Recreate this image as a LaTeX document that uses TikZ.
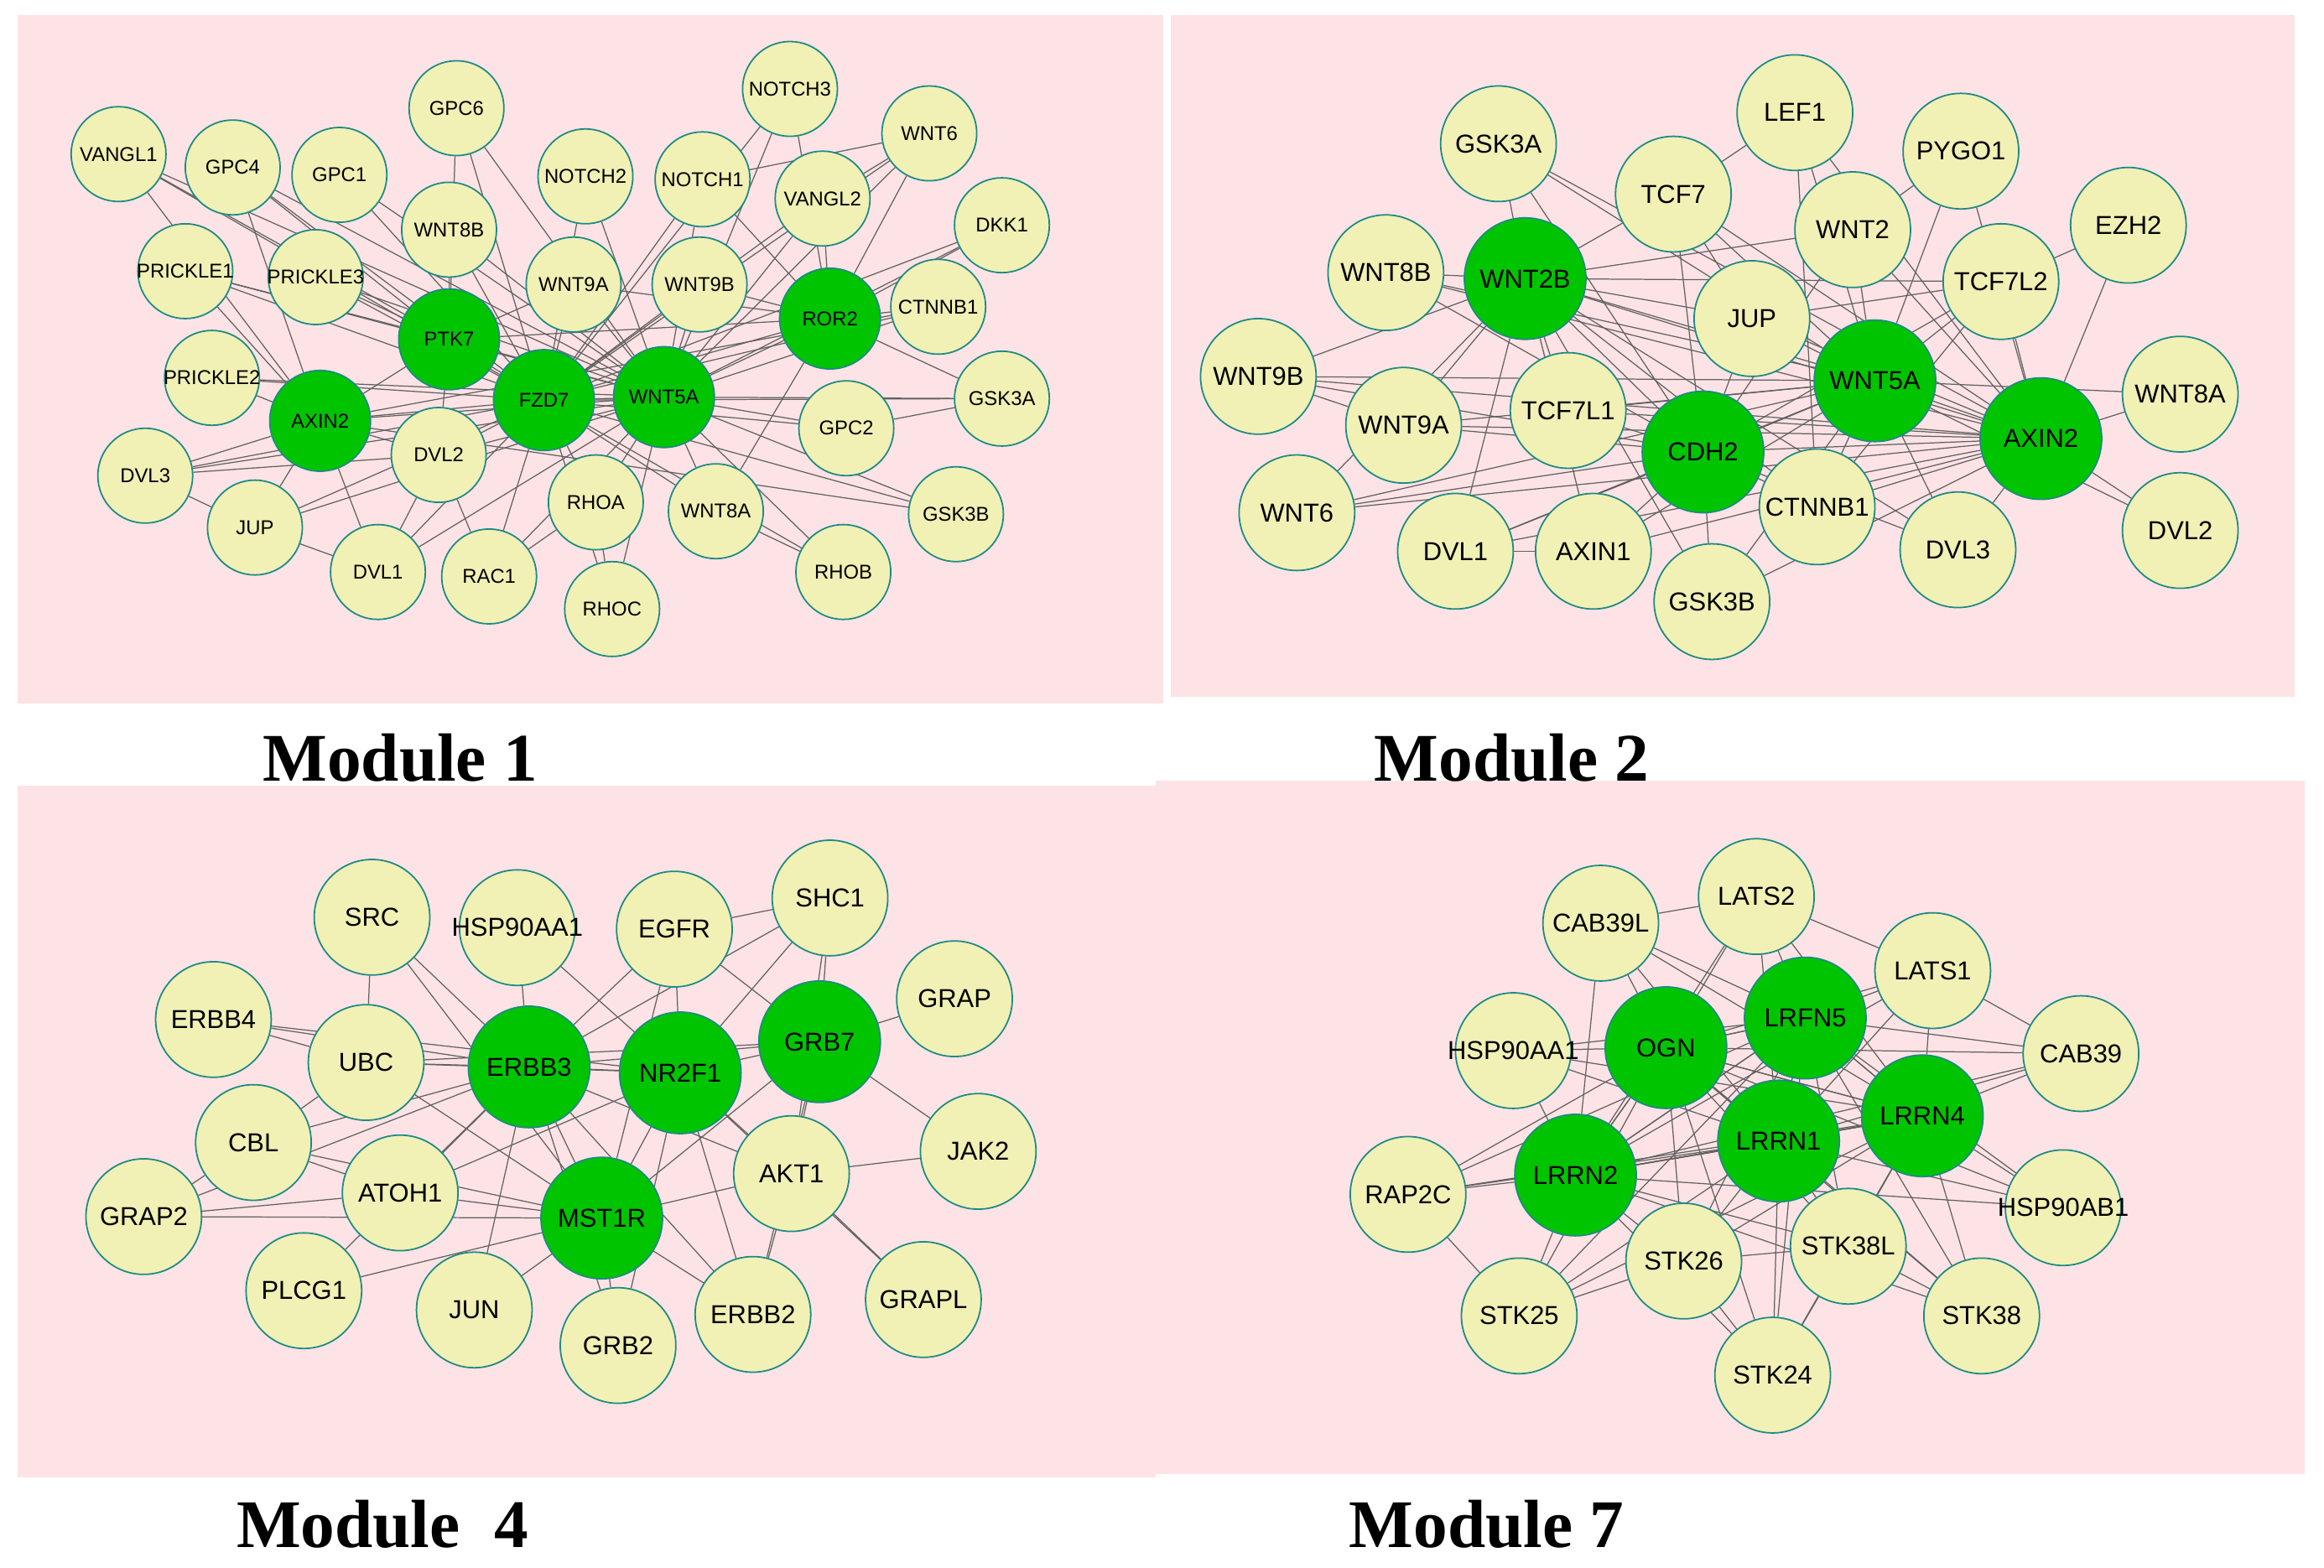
\documentclass[tikz,border=0pt]{standalone}
\usepackage{fontspec}
\setmainfont{Liberation Sans}
\newfontfamily\ttl{Liberation Serif}
\pgfdeclarelayer{bg}\pgfdeclarelayer{edges}
\pgfsetlayers{bg,edges,main}
\definecolor{pinkbg}{HTML}{FDE3E5}
\definecolor{ynode}{HTML}{F1F0B5}
\definecolor{gnode}{HTML}{00C400}
\definecolor{bord}{HTML}{1E8A84}
\tikzset{
 y1/.style={circle,draw=bord,line width=1pt,fill=ynode,minimum size=64pt,inner sep=-10pt,font=\fontsize{13.5}{13.5}\selectfont},
 g1/.style={y1,fill=gnode,minimum size=68pt},
 y2/.style={circle,draw=bord,line width=1pt,fill=ynode,minimum size=78pt,inner sep=-10pt,font=\fontsize{17.5}{17.5}\selectfont},
 g2/.style={y2,fill=gnode,minimum size=82pt},
 ed/.style={draw=black!62,line width=0.7pt},
 ttlst/.style={font=\ttl\bfseries\fontsize{46}{46}\selectfont,anchor=base}
}
\begin{document}
\begin{tikzpicture}[x=1pt,y=-1pt]
\useasboundingbox (0,0) rectangle (1568,1058);
\begin{pgfonlayer}{bg}
\fill[white] (0,0) rectangle (1568,1058);
\fill[pinkbg] (12,10) rectangle (785,475);
\fill[pinkbg] (790,10) rectangle (1548,470);
\fill[pinkbg] (12,530) rectangle (780,997);
\fill[pinkbg] (780,527) rectangle (1555,995);
\end{pgfonlayer}
\node[ttlst] (t1) at (270,527) {Module 1};
\node[ttlst] (t2) at (1020,527) {Module 2};
\node[ttlst] (t4) at (258,1044) {Module\ \ 4};
\node[ttlst] (t7) at (1003,1044) {Module 7};
% Module 1
\foreach \n/\t/\x/\y in {VANGL1/VANGL1/80/104,GPC4/GPC4/157/113,GPC1/GPC1/229/118,GPC6/GPC6/308/73,NOTCH3/NOTCH3/533/60,WNT6/WNT6/627/90,DKK1/DKK1/676/152,NOTCH2/NOTCH2/395/119,NOTCH1/NOTCH1/474/121,VANGL2/VANGL2/555/134,WNT8B/WNT8B/303/155,PRICKLE1/PRICKLE1/125/183,PRICKLE3/PRICKLE3/213/187,WNT9A/WNT9A/387/192,WNT9B/WNT9B/472/192,CTNNB1/CTNNB1/633/207,PRICKLE2/PRICKLE2/143/255,GSK3A/GSK3A/676/269,GPC2/GPC2/571/289,DVL2/DVL2/296/307,DVL3/DVL3/98/321,RHOA/RHOA/402/339,WNT8A/WNT8A/483/345,GSK3B/GSK3B/645/347,JUP/JUP/172/356,DVL1/DVL1/255/386,RAC1/RAC1/330/389,RHOB/RHOB/569/386,RHOC/RHOC/413/411}
  \node[y1] (a\n) at (\x,\y) {\t};
\foreach \n/\x/\y in {ROR2/560/215,PTK7/303/229,FZD7/367/270,WNT5A/448/268,AXIN2/216/284}
  \node[g1] (a\n) at (\x,\y) {\n};
\begin{pgfonlayer}{edges}
\foreach \h in {FZD7,WNT5A}{
 \foreach \m in {VANGL1,GPC4,GPC1,GPC6,NOTCH3,WNT6,DKK1,NOTCH2,NOTCH1,VANGL2,WNT8B,PRICKLE1,PRICKLE3,WNT9A,WNT9B,CTNNB1,PRICKLE2,GSK3A,GPC2,DVL2,DVL3,RHOA,WNT8A,GSK3B,JUP,DVL1,RAC1,RHOB,RHOC,ROR2,PTK7,AXIN2}
  \draw[ed] (a\h) -- (a\m);}
\draw[ed] (aFZD7) -- (aWNT5A);
\foreach \h/\m in {PTK7/VANGL1,PTK7/GPC4,PTK7/PRICKLE1,PTK7/PRICKLE3,PTK7/WNT8B,PTK7/WNT9A,PTK7/DVL2,PTK7/ROR2,PTK7/AXIN2,PTK7/GPC6,AXIN2/DVL3,AXIN2/JUP,AXIN2/DVL1,AXIN2/DVL2,AXIN2/PRICKLE2,AXIN2/PRICKLE1,AXIN2/GPC4,AXIN2/VANGL1,AXIN2/CTNNB1,AXIN2/GSK3B,ROR2/WNT6,ROR2/VANGL2,ROR2/NOTCH1,ROR2/DKK1,ROR2/CTNNB1,ROR2/WNT9B,ROR2/WNT9A,ROR2/NOTCH3,ROR2/GSK3A,ROR2/WNT8A,DVL2/DVL3,DVL2/DVL1,DVL2/RAC1,RHOA/RHOC,WNT6/VANGL2,WNT6/NOTCH1,GPC2/GSK3A,DVL1/JUP,DVL3/JUP,RAC1/RHOA,RHOB/WNT8A}
  \draw[ed] (a\h) -- (a\m);
\end{pgfonlayer}
% Module 2
\foreach \n/\x/\y in {GSK3A/1011/97,LEF1/1211/76,PYGO1/1323/102,TCF7/1129/131,EZH2/1436/152,WNT2/1250/155,WNT8B/935/184,TCF7L2/1350/190,JUP/1182/215,WNT9B/849/254,WNT8A/1471/266,WNT9A/947/287,TCF7L1/1058/277,WNT6/875/346,CTNNB1/1226/342,DVL1/982/372,AXIN1/1075/372,DVL3/1321/371,DVL2/1471/358,GSK3B/1155/406}
  \node[y2] (b\n) at (\x,\y) {\n};
\foreach \n/\x/\y in {WNT2B/1029/188,WNT5A/1265/257,AXIN2/1377/296,CDH2/1149/305}
  \node[g2] (b\n) at (\x,\y) {\n};
\begin{pgfonlayer}{edges}
\foreach \h in {WNT2B,WNT5A,AXIN2,CDH2}{
 \foreach \m in {GSK3A,TCF7,WNT2,WNT8B,TCF7L2,JUP,WNT9B,WNT9A,TCF7L1,WNT6,CTNNB1,DVL1,AXIN1,DVL3,GSK3B}
  \draw[ed] (b\h) -- (b\m);}
\foreach \h/\m in {WNT2B/WNT5A,WNT2B/AXIN2,WNT2B/CDH2,WNT5A/AXIN2,WNT5A/CDH2,AXIN2/CDH2,AXIN2/EZH2,AXIN2/WNT8A,AXIN2/DVL2,AXIN2/PYGO1,AXIN2/LEF1,WNT5A/LEF1,WNT5A/PYGO1,WNT5A/WNT8A,WNT5A/DVL2,TCF7/LEF1,TCF7/JUP,WNT2/PYGO1,TCF7L2/EZH2,CTNNB1/LEF1,CTNNB1/TCF7L2,JUP/TCF7L2,DVL1/AXIN1,WNT9B/WNT9A}
  \draw[ed] (b\h) -- (b\m);
\end{pgfonlayer}
% Module 4
\foreach \n/\x/\y in {SRC/251/619,HSP90AA1/349/626,EGFR/455/627,SHC1/560/606,GRAP/644/674,ERBB4/144/688,UBC/247/717,CBL/171/771,AKT1/534/792,JAK2/660/777,ATOH1/270/805,GRAP2/97/821,PLCG1/205/871,JUN/320/884,GRB2/417/908,ERBB2/508/887,GRAPL/623/877}
  \node[y2] (c\n) at (\x,\y) {\n};
\foreach \n/\x/\y in {ERBB3/357/720,NR2F1/459/724,GRB7/553/703,MST1R/406/822}
  \node[g2] (c\n) at (\x,\y) {\n};
\begin{pgfonlayer}{edges}
\foreach \h/\m in {ERBB3/SRC,ERBB3/HSP90AA1,ERBB3/EGFR,ERBB3/SHC1,ERBB3/ERBB4,ERBB3/UBC,ERBB3/CBL,ERBB3/ATOH1,ERBB3/GRAP2,ERBB3/PLCG1,ERBB3/JUN,ERBB3/GRB2,ERBB3/ERBB2,ERBB3/AKT1,ERBB3/NR2F1,ERBB3/MST1R,ERBB3/GRB7,NR2F1/HSP90AA1,NR2F1/EGFR,NR2F1/SHC1,NR2F1/GRB7,NR2F1/MST1R,NR2F1/AKT1,NR2F1/ERBB2,NR2F1/GRB2,NR2F1/UBC,NR2F1/ATOH1,NR2F1/ERBB4,NR2F1/GRAPL,GRB7/SHC1,GRB7/GRAP,GRB7/EGFR,GRB7/AKT1,GRB7/ERBB2,GRB7/MST1R,GRB7/JAK2,GRB7/UBC,MST1R/ATOH1,MST1R/CBL,MST1R/JUN,MST1R/GRB2,MST1R/ERBB2,MST1R/AKT1,MST1R/PLCG1,MST1R/UBC,MST1R/SRC,MST1R/EGFR,MST1R/GRAP2,AKT1/JAK2,AKT1/GRAPL,AKT1/SHC1,AKT1/ERBB2,ATOH1/GRAP2,ATOH1/CBL,UBC/ERBB4,UBC/CBL,GRAP2/CBL,SRC/UBC,EGFR/SHC1}
  \draw[ed] (c\h) -- (c\m);
\end{pgfonlayer}
% Module 7
\foreach \n/\x/\y in {LATS2/1185/605,CAB39L/1080/623,LATS1/1304/655,CAB39/1404/711,HSP90AA1/1021/709,RAP2C/950/806,HSP90AB1/1392/815,STK26/1136/851,STK38L/1247/841,STK25/1025/888,STK38/1337/888,STK24/1196/928}
  \node[y2] (d\n) at (\x,\y) {\n};
\foreach \n/\x/\y in {LRFN5/1218/687,OGN/1124/707,LRRN4/1297/753,LRRN1/1200/770,LRRN2/1063/793}
  \node[g2] (d\n) at (\x,\y) {\n};
\begin{pgfonlayer}{edges}
\foreach \h in {LRFN5,OGN,LRRN4,LRRN1,LRRN2}{
 \foreach \m in {LATS2,CAB39L,LATS1,CAB39,HSP90AA1,RAP2C,HSP90AB1,STK26,STK38L,STK25,STK38,STK24,LRFN5,OGN,LRRN4,LRRN1,LRRN2}
  \draw[ed] (d\h) -- (d\m);}
\foreach \h/\m in {STK26/STK38L,STK26/STK25,STK26/STK24,STK38L/STK38,STK38L/STK24,LATS2/LATS1,CAB39L/LATS2,CAB39/LATS1,STK25/RAP2C}
  \draw[ed] (d\h) -- (d\m);
\end{pgfonlayer}
\end{tikzpicture}
\end{document}
